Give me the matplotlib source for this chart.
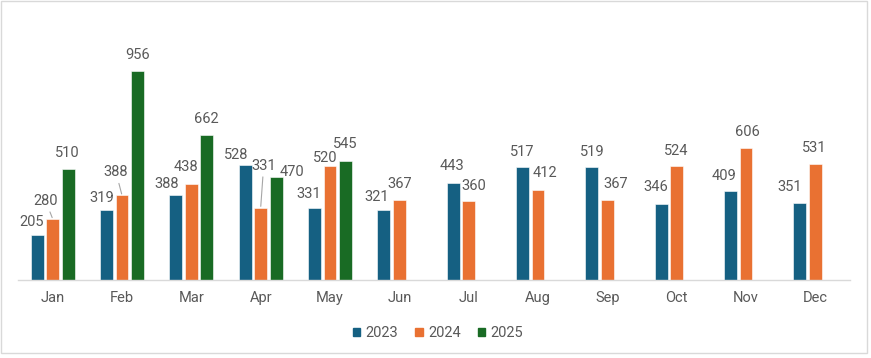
import matplotlib.pyplot as plt
from matplotlib.patches import Rectangle, Patch
import numpy as np

plt.rcParams['font.family'] = ['Roboto', 'DejaVu Sans']

months = ['Jan', 'Feb', 'Mar', 'Apr', 'May', 'Jun', 'Jul', 'Aug', 'Sep', 'Oct', 'Nov', 'Dec']
sales_2023 = [205, 319, 388, 528, 331, 321, 443, 517, 519, 346, 409, 351]
sales_2024 = [280, 388, 438, 331, 520, 367, 360, 412, 367, 524, 606, 531]
sales_2025 = [510, 956, 662, 470, 545]

colors = ['#156082', '#E97132', '#196B24']
text_grey = '#595959'

# label offsets in pixels (dx, dy) from the bar top, roughly like Excel's best fit
offs_2023 = [(-6, 13), (-5, 12), (-9, 11), (-9, 10), (-6, 14), (-7, 13),
             (-1, 17), (0, 15), (0, 15), (-5, 17), (-6, 15), (-10, 16)]
offs_2024 = [(-7, 18), (-6, 23), (-5, 17), (3, 42), (-5, 8), (0, 16),
             (5, 15), (7, 17), (8, 16), (0, 15), (1, 16), (-1, 16)]
offs_2025 = [(-1, 16), (0, 16), (-1, 16), (16, 5), (0, 17)]
leaders = {(1, 0), (1, 1), (1, 3)}

W, H = 871, 358
fig = plt.figure(figsize=(W / 100, H / 100), dpi=100)
ax = fig.add_axes([18 / W, 78 / H, 832 / W, 262 / H])

series = [('2023', sales_2023, offs_2023),
          ('2024', sales_2024, offs_2024),
          ('2025', sales_2025, offs_2025)]
slot = 0.224
for k, (name, vals, offs) in enumerate(series):
    x = np.arange(len(vals)) + (k - 1) * slot
    ax.bar(x, vals, width=0.185, color=colors[k], edgecolor='white', linewidth=0.4)
    for i, v in enumerate(vals):
        dx, dy = offs[i]
        arrow = None
        if (k, i) in leaders:
            arrow = dict(arrowstyle='-', color='#a6a6a6', lw=0.8, shrinkA=1, shrinkB=1)
        ax.annotate(str(v), xy=(x[i], v), xytext=(dx, dy), textcoords='offset pixels',
                    ha='center', va='center', fontsize=10.5, color=text_grey,
                    arrowprops=arrow)

ax.set_xlim(-0.5, 11.5)
ax.set_ylim(0, 1200)
ax.set_xticks(range(12))
ax.set_xticklabels(months, fontsize=10.5, color=text_grey)
ax.tick_params(axis='x', length=0, pad=8)
ax.set_yticks([])
for s in ['top', 'right', 'left']:
    ax.spines[s].set_visible(False)
ax.spines['bottom'].set_color('#d9d9d9')
ax.spines['bottom'].set_linewidth(1)

handles = [Patch(color=c, label=n) for c, (n, _, _) in zip(colors, series)]
fig.legend(handles=handles, loc='center', bbox_to_anchor=(438 / W, 1 - 333 / H),
           ncol=3, frameon=False, fontsize=10.5, labelcolor=text_grey,
           handlelength=0.5, handleheight=0.5, handletextpad=0.35, columnspacing=1.2)

fig.patches.append(Rectangle((1 / W, 5 / H), 866 / W, 352 / H, transform=fig.transFigure,
                             fill=False, edgecolor='#d9d9d9', linewidth=1))

fig.savefig('out.png', dpi=100)
